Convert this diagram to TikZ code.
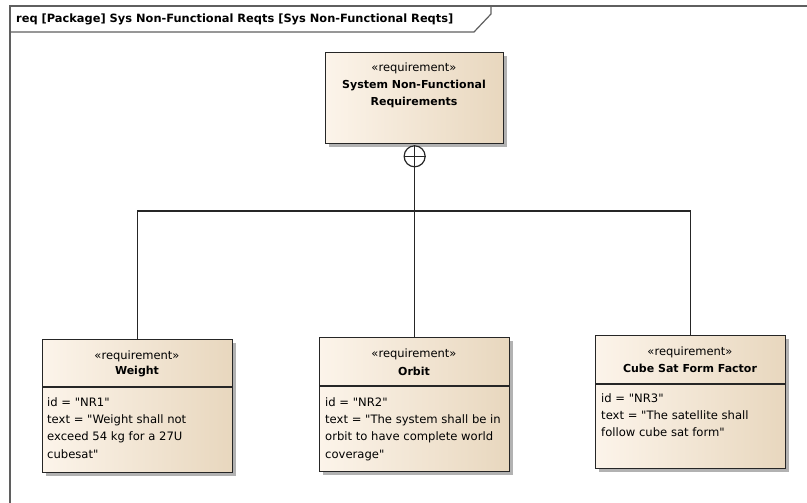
\documentclass[tikz,border=0pt]{standalone}
\usepackage{fontspec}
\newfontfamily\eafont{DejaVu Sans}
\usetikzlibrary{positioning,shadows}
\definecolor{reqlight}{RGB}{252,244,234}
\definecolor{reqdark}{RGB}{232,215,190}
\definecolor{framegray}{RGB}{95,95,95}
\tikzset{
  reqbox/.style={draw=black!85,line width=1.3pt,left color=reqlight,right color=reqdark,
    minimum width=190pt,minimum height=133pt,anchor=north west,inner sep=0pt,
    drop shadow={shadow xshift=3pt,shadow yshift=-3pt,fill=black!30,opacity=1}},
  stereo/.style={font=\eafont\fontsize{11.5}{12}\selectfont,inner sep=0pt},
  reqname/.style={font=\eafont\fontsize{11}{17}\selectfont\bfseries,inner sep=0pt,align=center},
  attr/.style={font=\eafont\fontsize{11.6}{17.4}\selectfont,inner sep=0pt,anchor=north west,align=left},
  link/.style={draw=black!85,line width=1.2pt}
}
\begin{document}
\begin{tikzpicture}[x=1pt,y=-1pt]
  \useasboundingbox (0,0) rectangle (807,503);
  % diagram frame and its name tab
  \draw[framegray,line width=1.4pt] (10,510) -- (10,6) -- (812,6);
  \draw[framegray,line width=1.2pt] (10,32) -- (474,32) -- (491,14) -- (491,6);
  \path (16,19) node[anchor=west,inner sep=0pt,font=\eafont\fontsize{11.4}{12}\selectfont\bfseries] (title)
    {req [Package] Sys Non-Functional Reqts [Sys Non-Functional Reqts]};
  % parent requirement
  \path (325,52) node[reqbox,minimum width=178pt,minimum height=91pt] (sysnf) {};
  \path (414,68) node[stereo] (sysnfst) {«requirement»};
  \path (414,93.5) node[reqname] (sysnfnm) {System Non-Functional\\Requirements};
  \path (sysnf.south) ++(0,12) node[circle,draw=black!85,line width=1.2pt,fill=white,
    minimum size=21pt,inner sep=0pt] (contain) {};
  \draw[link] (contain.north) -- (contain.south);
  \draw[link] (contain.west) -- (contain.east);
  % child requirements
  \path (42,339) node[reqbox] (weight) {};
  \draw[link] (42,387) -- (232,387);
  \path (137,356) node[stereo] (weightst) {«requirement»};
  \path (137,372) node[reqname] (weightnm) {Weight};
  \path (47,397) node[attr] (weightat)
    {id = "NR1"\\text = "Weight shall not\\exceed 54 kg for a 27U\\cubesat"};
  \path (319,337) node[reqbox,minimum height=134pt] (orbit) {};
  \draw[link] (319,386) -- (509,386);
  \path (414,354) node[stereo] (orbitst) {«requirement»};
  \path (414,371) node[reqname] (orbitnm) {Orbit};
  \path (325,397) node[attr] (orbitat)
    {id = "NR2"\\text = "The system shall be in\\orbit to have complete world\\coverage"};
  \path (595,335) node[reqbox] (cube) {};
  \draw[link] (595,384) -- (785,384);
  \path (690,352) node[stereo] (cubest) {«requirement»};
  \path (690,368) node[reqname] (cubenm) {Cube Sat Form Factor};
  \path (601,393) node[attr] (cubeat)
    {id = "NR3"\\text = "The satellite shall\\follow cube sat form"};
  % containment tree
  \coordinate (bus) at (414,211);
  \draw[link] (contain.south) -- (orbit.north);
  \draw[link] (weight.north) -- (weight.north |- bus) -- (cube.north |- bus) -- (cube.north);
\end{tikzpicture}
\end{document}
